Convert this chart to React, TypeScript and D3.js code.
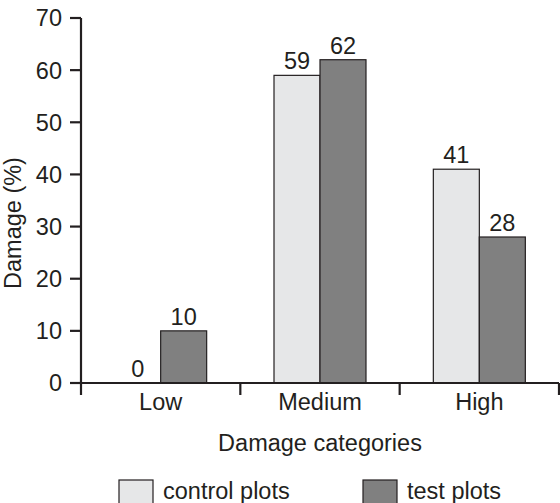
import { useEffect, useRef } from 'react';
import * as d3 from 'd3';

const categories = ['Low', 'Medium', 'High'];
const seriesNames = ['control plots', 'test plots'];
const controlValues = [0, 59, 41];
const testValues = [10, 62, 28];
const yTicks = [0, 10, 20, 30, 40, 50, 60, 70];

const fills = ['#e6e7e8', '#808080'];
const ink = '#231f20';
const font = '"Liberation Sans", Arial, sans-serif';

export default function App() {
  const svgRef = useRef<SVGSVGElement>(null);

  useEffect(() => {
    const svg = d3.select(svgRef.current);
    if (!svg.node()) return;
    svg.selectAll('*').remove();

    const width = 560;
    const height = 503;
    const left = 81;
    const right = 559;
    const top = 18;
    const bottom = 383;
    const fs = 23.5;

    const x = d3.scaleBand().domain(categories).range([left, right]).padding(0);
    const inner = d3
      .scaleBand()
      .domain(seriesNames)
      .range([0, x.bandwidth()])
      .paddingInner(0)
      .paddingOuter(0.732);
    const y = d3.scaleLinear().domain([0, 70]).range([bottom, top]);

    const rows = categories.map((c, i) => ({
      cat: c,
      vals: [controlValues[i], testValues[i]],
    }));

    const g = svg.append('g').attr('font-family', font).attr('fill', ink);

    // bars + value labels
    rows.forEach((r) => {
      r.vals.forEach((v, j) => {
        const bx = x(r.cat)! + inner(seriesNames[j])!;
        if (v > 0) {
          g.append('rect')
            .attr('x', bx)
            .attr('y', y(v))
            .attr('width', inner.bandwidth())
            .attr('height', y(0) - y(v))
            .attr('fill', fills[j])
            .attr('stroke', ink)
            .attr('stroke-width', 1.2);
        }
        g.append('text')
          .attr('x', bx + inner.bandwidth() / 2)
          .attr('y', y(v) - 6)
          .attr('text-anchor', 'middle')
          .attr('font-size', fs)
          .text(v);
      });
    });

    // y axis
    g.append('line')
      .attr('x1', left)
      .attr('x2', left)
      .attr('y1', top)
      .attr('y2', bottom + 12)
      .attr('stroke', ink)
      .attr('stroke-width', 2.2);
    yTicks.forEach((t) => {
      g.append('line')
        .attr('x1', left - 11)
        .attr('x2', left)
        .attr('y1', y(t))
        .attr('y2', y(t))
        .attr('stroke', ink)
        .attr('stroke-width', 2.2);
      g.append('text')
        .attr('x', left - 19)
        .attr('y', y(t))
        .attr('dy', '0.36em')
        .attr('text-anchor', 'end')
        .attr('font-size', fs)
        .text(t);
    });

    // x axis
    g.append('line')
      .attr('x1', left)
      .attr('x2', right)
      .attr('y1', bottom)
      .attr('y2', bottom)
      .attr('stroke', ink)
      .attr('stroke-width', 2.2);
    categories.forEach((c) => {
      const edge = x(c)! + x.bandwidth();
      g.append('line')
        .attr('x1', edge)
        .attr('x2', edge)
        .attr('y1', bottom)
        .attr('y2', bottom + 12)
        .attr('stroke', ink)
        .attr('stroke-width', 2.2);
      g.append('text')
        .attr('x', x(c)! + x.bandwidth() / 2)
        .attr('y', 410)
        .attr('text-anchor', 'middle')
        .attr('font-size', fs)
        .text(c);
    });

    g.append('text')
      .attr('x', (left + right) / 2)
      .attr('y', 451)
      .attr('text-anchor', 'middle')
      .attr('font-size', fs)
      .text('Damage categories');

    g.append('text')
      .attr('transform', `translate(21,223) rotate(-90)`)
      .attr('text-anchor', 'middle')
      .attr('font-size', fs)
      .text('Damage (%)');

    // legend
    const legendX = [119, 363];
    seriesNames.forEach((s, j) => {
      g.append('rect')
        .attr('x', legendX[j])
        .attr('y', 480)
        .attr('width', 34)
        .attr('height', 34)
        .attr('fill', fills[j])
        .attr('stroke', ink)
        .attr('stroke-width', 1.2);
      g.append('text')
        .attr('x', legendX[j] + 44)
        .attr('y', 499)
        .attr('font-size', fs)
        .text(s);
    });

    svg.attr('viewBox', `0 0 ${width} ${height}`);
  }, []);

  return (
    <svg
      ref={svgRef}
      width={560}
      height={503}
      style={{ position: 'absolute', left: 0, top: 0, background: '#fff' }}
    />
  );
}
